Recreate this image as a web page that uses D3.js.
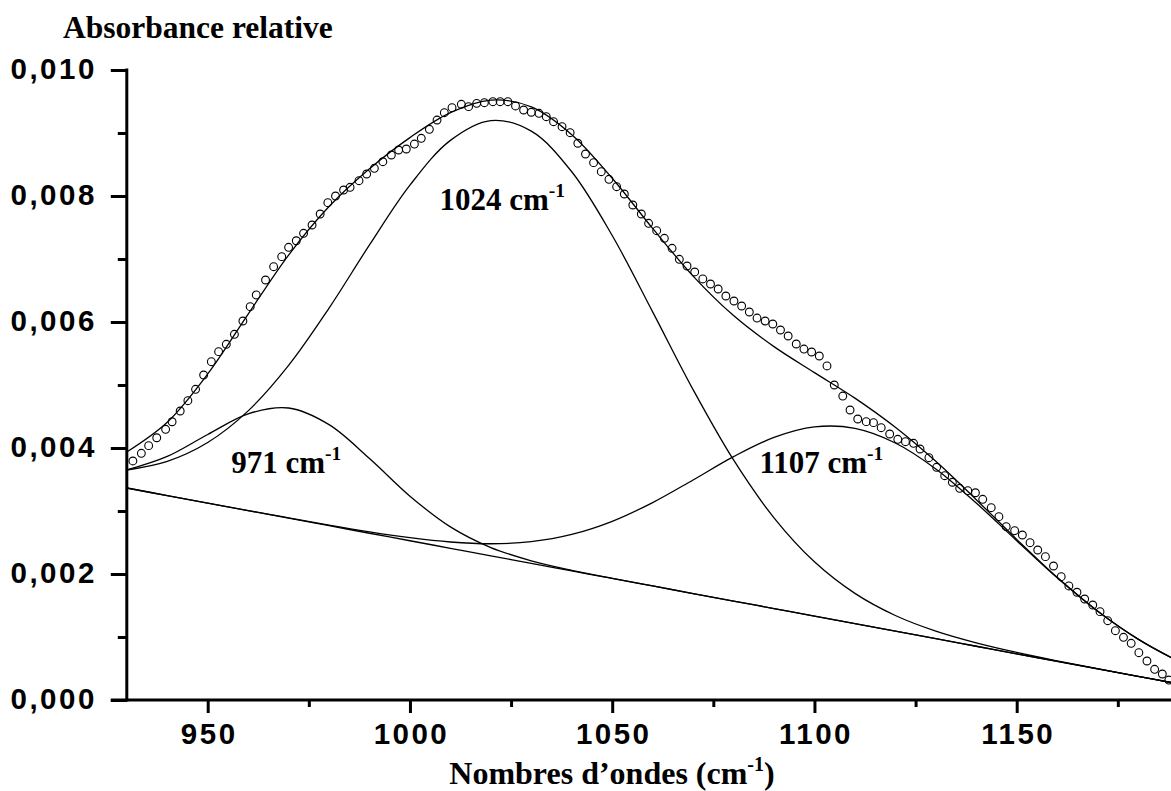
<!DOCTYPE html>
<html>
<head>
<meta charset="utf-8">
<script src="https://cdn.jsdelivr.net/npm/d3@7"></script>
<style>
  html, body { margin: 0; padding: 0; background: #fff; }
  svg { display: block; }
</style>
</head>
<body>
<svg id="chart" width="1171" height="791"></svg>
<script>
// Measured spectrum (open circles): wavenumber in cm-1 and relative absorbance
const measuredWavenumber = [
  931.5, 933.6, 935.4, 937.4, 939.6, 941.2, 943.2, 945.1, 947.0, 949.0,
  950.9, 952.7, 954.6, 956.6, 958.7, 960.5, 962.0, 964.3, 966.3, 968.3,
  970.0, 971.9, 973.7, 975.8, 977.8, 979.7, 981.6, 983.6, 985.2, 987.4,
  989.3, 991.2, 993.3, 995.4, 997.2, 999.1, 1001.1, 1002.8, 1004.8, 1006.7,
  1008.5, 1010.4, 1012.7, 1014.5, 1016.5, 1018.4, 1020.5, 1022.3, 1024.2, 1026.1,
  1028.1, 1030.0, 1031.9, 1033.7, 1035.5, 1037.6, 1039.6, 1041.5, 1043.4, 1045.4,
  1047.3, 1049.2, 1051.1, 1053.0, 1055.1, 1057.2, 1059.0, 1061.0, 1062.9, 1064.8,
  1066.6, 1068.5, 1070.4, 1072.4, 1074.3, 1076.2, 1078.1, 1080.1, 1082.0, 1083.9,
  1085.8, 1087.8, 1089.7, 1091.6, 1093.5, 1095.5, 1097.4, 1099.3, 1101.2, 1103.1,
  1104.9, 1107.0, 1108.8, 1110.7, 1112.8, 1114.6, 1116.5, 1118.6, 1120.6, 1122.5,
  1124.5, 1126.1, 1128.3, 1130.2, 1132.2, 1134.1, 1135.9, 1137.9, 1139.8, 1141.6,
  1143.7, 1145.6, 1147.4, 1149.5, 1151.4, 1153.3, 1155.2, 1157.1, 1159.1, 1161.0,
  1162.9, 1164.9, 1166.8, 1168.8, 1170.6, 1172.5, 1174.4, 1176.4, 1178.3, 1180.2,
  1182.2, 1184.1, 1186.0, 1187.6
];
const measuredAbsorbance = [
  0.003794, 0.003916, 0.004037, 0.004163, 0.004297, 0.004417, 0.004587, 0.004751, 0.004932, 0.005159,
  0.005370, 0.005529, 0.005646, 0.005805, 0.006016, 0.006243, 0.006429, 0.006667, 0.006878, 0.007037,
  0.007186, 0.007290, 0.007408, 0.007540, 0.007714, 0.007894, 0.008000, 0.008095, 0.008138, 0.008243,
  0.008349, 0.008440, 0.008544, 0.008651, 0.008730, 0.008746, 0.008825, 0.008916, 0.009059, 0.009206,
  0.009322, 0.009402, 0.009456, 0.009418, 0.009471, 0.009481, 0.009497, 0.009497, 0.009497, 0.009429,
  0.009365, 0.009329, 0.009313, 0.009259, 0.009179, 0.009100, 0.009005, 0.008837, 0.008667, 0.008529,
  0.008386, 0.008265, 0.008148, 0.008032, 0.007857, 0.007714, 0.007567, 0.007449, 0.007329, 0.007170,
  0.006995, 0.006889, 0.006794, 0.006683, 0.006603, 0.006524, 0.006413, 0.006333, 0.006254, 0.006159,
  0.006063, 0.006016, 0.005968, 0.005873, 0.005778, 0.005651, 0.005571, 0.005524, 0.005460, 0.005302,
  0.005000, 0.004825, 0.004603, 0.004460, 0.004418, 0.004402, 0.004322, 0.004222, 0.004138, 0.004100,
  0.004075, 0.003984, 0.003846, 0.003694, 0.003560, 0.003456, 0.003360, 0.003322, 0.003290, 0.003186,
  0.003052, 0.002910, 0.002751, 0.002687, 0.002619, 0.002497, 0.002381, 0.002275, 0.002127, 0.001957,
  0.001810, 0.001710, 0.001603, 0.001508, 0.001402, 0.001259, 0.001100, 0.000995, 0.000900, 0.000751,
  0.000619, 0.000487, 0.000413, 0.000317
];

// Fitted curves, sampled every 10 cm-1 (each band is drawn on top of the baseline)
const fitWavenumber = [
  930, 940, 950, 960, 970, 980, 990, 1000, 1010, 1020, 1030, 1040, 1050, 1060,
  1070, 1080, 1090, 1100, 1110, 1120, 1130, 1140, 1150, 1160, 1170, 1180, 1190
];
const baselineAbsorbance = [
  0.003365, 0.003245, 0.003126, 0.003006, 0.002887, 0.002767, 0.002647, 0.002528, 0.002408, 0.002288,
  0.002169, 0.002049, 0.001929, 0.001810, 0.001690, 0.001571, 0.001451, 0.001331, 0.001212, 0.001092,
  0.000973, 0.000853, 0.000733, 0.000614, 0.000494, 0.000375, 0.000255
];
const band971Absorbance = [
  0.003651, 0.003866, 0.004214, 0.004542, 0.004635, 0.004371, 0.003833, 0.003235, 0.002748, 0.002420,
  0.002210, 0.002059, 0.001931, 0.001810, 0.001690, 0.001571, 0.001451, 0.001331, 0.001212, 0.001092,
  0.000973, 0.000853, 0.000733, 0.000614, 0.000494, 0.000375, 0.000255
];
const band1024Absorbance = [
  0.003651, 0.003788, 0.004087, 0.004589, 0.005311, 0.006220, 0.007224, 0.008172, 0.008883, 0.009198,
  0.009029, 0.008385, 0.007373, 0.006161, 0.004926, 0.003810, 0.002892, 0.002193, 0.001692, 0.001341,
  0.001093, 0.000907, 0.000755, 0.000622, 0.000497, 0.000376, 0.000255
];
const band1107Absorbance = [
  0.003365, 0.003245, 0.003126, 0.003007, 0.002891, 0.002776, 0.002669, 0.002576, 0.002508, 0.002480,
  0.002514, 0.002628, 0.002836, 0.003134, 0.003493, 0.003863, 0.004168, 0.004335, 0.004312, 0.004080,
  0.003668, 0.003126, 0.002528, 0.001939, 0.001409, 0.000966, 0.000612
];
const envelopeAbsorbance = [
  0.003937, 0.004409, 0.005175, 0.006126, 0.007063, 0.007833, 0.008432, 0.008927, 0.009323, 0.009522,
  0.009415, 0.008974, 0.008282, 0.007485, 0.006729, 0.006102, 0.005609, 0.005197, 0.004792, 0.004329,
  0.003788, 0.003180, 0.002550, 0.001947, 0.001412, 0.000967, 0.000612
];

// Axis ticks
const xMajorTicks = [950, 1000, 1050, 1100, 1150];
const xMinorTicks = [975, 1025, 1075, 1125, 1175];
const yMajorTicks = [0, 0.002, 0.004, 0.006, 0.008, 0.010];
const yMinorTicks = [0.001, 0.003, 0.005, 0.007, 0.009];

// Band annotations
const bandNames = ["971", "1024", "1107"];

const svg = d3.select("#chart");
const serif = "'Liberation Serif', 'Times New Roman', serif";
const sans = "'Liberation Sans', Arial, sans-serif";

const x = d3.scaleLinear().domain([930, 1190]).range([126.8, 1178.5]);
const y = d3.scaleLinear().domain([0, 0.010]).range([700, 70]);

const frFormat = d3.formatLocale({ decimal: ",", thousands: " ", grouping: [3], currency: ["", ""] }).format(".3f");

// ---- curves ----
const line = d3.line()
  .x(d => x(d[0]))
  .y(d => y(d[1]))
  .curve(d3.curveCatmullRom.alpha(0.5));

const curveSets = [baselineAbsorbance, band971Absorbance, band1024Absorbance, band1107Absorbance, envelopeAbsorbance];
const plot = svg.append("g");
curveSets.forEach(values => {
  plot.append("path")
    .datum(fitWavenumber.map((w, i) => [w, values[i]]))
    .attr("d", line)
    .attr("fill", "none")
    .attr("stroke", "#000")
    .attr("stroke-width", 1.3);
});

// ---- measured points ----
plot.selectAll("circle.pt")
  .data(measuredWavenumber.map((w, i) => [w, measuredAbsorbance[i]]))
  .join("circle")
  .attr("class", "pt")
  .attr("cx", d => x(d[0]))
  .attr("cy", d => y(d[1]))
  .attr("r", 3.9)
  .attr("fill", "none")
  .attr("stroke", "#000")
  .attr("stroke-width", 1.1);

// ---- axes ----
const axisG = svg.append("g");

// bottom axis: major ticks with labels, minor ticks without
const xAxisMajor = d3.axisBottom(x).tickValues(xMajorTicks).tickSize(13).tickPadding(10).tickFormat(d3.format("d"));
const xAxisMinor = d3.axisBottom(x).tickValues(xMinorTicks).tickSize(7).tickFormat("");
const gxMinor = axisG.append("g").attr("transform", "translate(0,700)").call(xAxisMinor);
const gx = axisG.append("g").attr("transform", "translate(0,700)").call(xAxisMajor);

const yAxisMajor = d3.axisLeft(y).tickValues(yMajorTicks).tickSize(16).tickPadding(14).tickFormat(frFormat);
const yAxisMinor = d3.axisLeft(y).tickValues(yMinorTicks).tickSize(9).tickFormat("");
const gyMinor = axisG.append("g").attr("transform", `translate(${x(930)},0)`).call(yAxisMinor);
const gy = axisG.append("g").attr("transform", `translate(${x(930)},0)`).call(yAxisMajor);

[gx, gxMinor, gy, gyMinor].forEach(g => {
  g.select(".domain").remove();
  g.selectAll(".tick line").attr("stroke", "#000").attr("stroke-width", 3);
});
gx.selectAll(".tick text")
  .attr("font-family", sans).attr("font-weight", "bold").attr("font-size", 29.5)
  .attr("letter-spacing", 2.5).attr("fill", "#000").attr("dx", 1);
gy.selectAll(".tick text")
  .attr("font-family", sans).attr("font-weight", "bold").attr("font-size", 29.5)
  .attr("letter-spacing", 2.5).attr("fill", "#000").attr("dy", "0.3em");

// axis lines
axisG.append("line")
  .attr("x1", x(930)).attr("x2", x(930))
  .attr("y1", y(0.010) - 1.5).attr("y2", y(0) + 1.5)
  .attr("stroke", "#000").attr("stroke-width", 3);
axisG.append("line")
  .attr("x1", x(930) - 16).attr("x2", 1171)
  .attr("y1", y(0)).attr("y2", y(0))
  .attr("stroke", "#000").attr("stroke-width", 3);

// ---- titles ----
svg.append("text")
  .attr("x", 63).attr("y", 38)
  .attr("font-family", serif).attr("font-weight", "bold").attr("font-size", 31.5)
  .text("Absorbance relative");

const xTitle = svg.append("text")
  .attr("x", 612).attr("y", 784)
  .attr("text-anchor", "middle")
  .attr("font-family", serif).attr("font-weight", "bold").attr("font-size", 32);
xTitle.append("tspan").text("Nombres d\u2019ondes (cm");
xTitle.append("tspan").attr("dy", -13).attr("font-size", 20).text("-1");
xTitle.append("tspan").attr("dy", 13).text(")");

// ---- band labels ----
const labelAnchors = {
  "971": [955.8, 0.00360],
  "1024": [1007.3, 0.00778],
  "1107": [1086.4, 0.00360]
};
bandNames.forEach(name => {
  const [w, a] = labelAnchors[name];
  const t = svg.append("text")
    .attr("x", x(w)).attr("y", y(a))
    .attr("font-family", serif).attr("font-weight", "bold").attr("font-size", 31);
  t.append("tspan").text(name + " cm");
  t.append("tspan").attr("dy", -13).attr("font-size", 19.5).text("-1");
});
</script>
</body>
</html>
